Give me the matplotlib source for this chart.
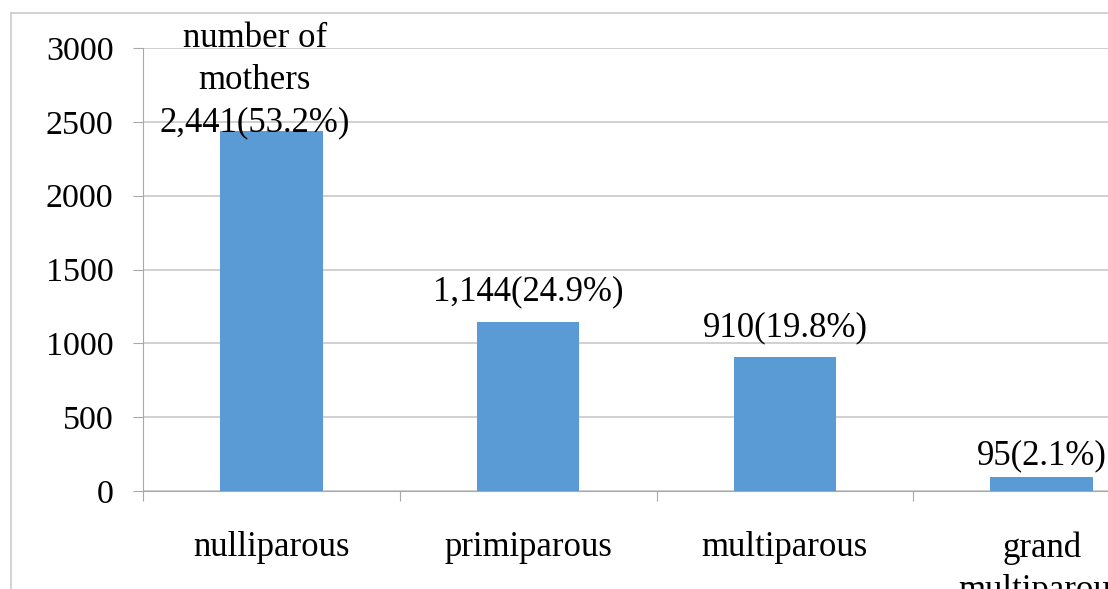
import matplotlib.pyplot as plt
from matplotlib.lines import Line2D

categorias = ["nulliparous", "primiparous", "multiparous", "grand\nmultiparous"]
num_maes = [2441, 1144, 910, 95]
rotulos = ["number of\nmothers\n2,441(53.2%)", "1,144(24.9%)", "910(19.8%)", "95(2.1%)"]
yticks = [0, 500, 1000, 1500, 2000, 2500, 3000]

# deslocamento dos rotulos em pontos (x, y)
deslocamentos = [(-12, -6), (0, 10), (0, 9), (0, 3)]

COR_BARRA = "#5B9BD5"
COR_GRADE = "#c4c4c4"
COR_EIXO = "#a8a8a8"

plt.rcParams["font.family"] = ["Liberation Serif", "DejaVu Serif"]


def plotar():
    fig = plt.figure(figsize=(11.08, 5.89), dpi=100)
    ax = fig.add_axes([143 / 1108, 98 / 589, 1027 / 1108, 443 / 589])

    x = list(range(len(categorias)))
    barras = ax.bar(x, num_maes, width=0.4, color=COR_BARRA, zorder=2)

    for barra, texto, (dx, dy) in zip(barras, rotulos, deslocamentos):
        ax.annotate(texto, (barra.get_x() + barra.get_width() / 2, barra.get_height()),
                    xytext=(dx, dy), textcoords="offset points",
                    ha="center", va="bottom", fontsize=25, linespacing=1.36,
                    multialignment="center", zorder=3)

    ax.set_xlim(-0.5, len(categorias) - 0.5)
    ax.set_ylim(0, 3000)
    ax.set_yticks(yticks)
    ax.set_yticklabels([str(v) for v in yticks], fontsize=24.5)
    ax.set_xticks(x)
    ax.set_xticklabels(categorias, fontsize=25)
    for lab in ax.get_xticklabels():
        lab.set_linespacing(1.36)
    ax.set_xticks([i - 0.5 for i in range(len(categorias) + 1)], minor=True)

    ax.tick_params(axis="x", which="major", length=0, pad=29)
    ax.tick_params(axis="x", which="minor", length=7.2, width=0.8, color=COR_EIXO)
    ax.tick_params(axis="y", length=7.2, width=0.8, color=COR_EIXO, pad=14)

    ax.yaxis.grid(True, color=COR_GRADE, linewidth=1.1)
    ax.set_axisbelow(True)
    for lado in ["top", "right"]:
        ax.spines[lado].set_visible(False)
    for lado in ["left", "bottom"]:
        ax.spines[lado].set_color(COR_EIXO)
        ax.spines[lado].set_linewidth(0.8)

    # moldura externa do grafico
    xm = 11 / 1108
    ym = 1 - 13 / 589
    fig.add_artist(Line2D([xm, xm], [0, ym], color="#c8c8c8", linewidth=1.1))
    fig.add_artist(Line2D([xm, 1], [ym, ym], color="#c8c8c8", linewidth=1.1))

    fig.savefig("out.png", dpi=100)


if __name__ == "__main__":
    plotar()
